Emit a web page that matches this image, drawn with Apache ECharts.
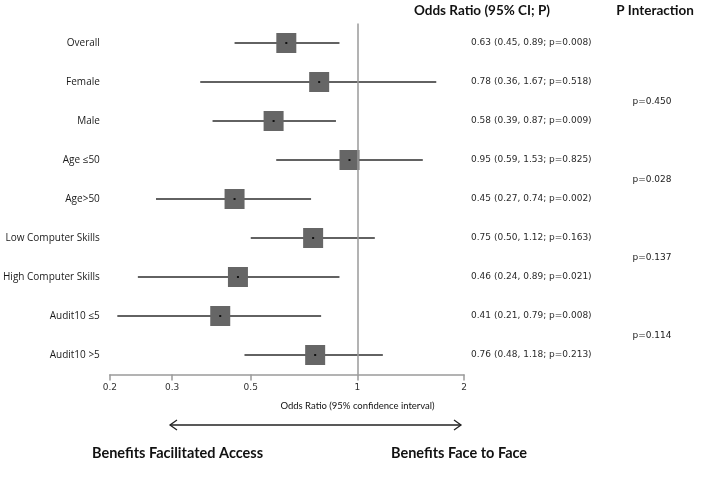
<!DOCTYPE html>
<html>
<head>
<meta charset="utf-8">
<script src="https://cdn.jsdelivr.net/npm/echarts@6/dist/echarts.min.js"></script>
<style>html,body{margin:0;padding:0;background:#fff}#c{width:708px;height:497px}</style>
</head>
<body>
<div id="c"></div>
<script>
// ---- data ----
const categories = ['Overall', 'Female', 'Male', 'Age \u226450', 'Age>50', 'Low Computer Skills', 'High Computer Skills', 'Audit10 \u22645', 'Audit10 >5'];
const oddsRatio = [0.63, 0.78, 0.58, 0.95, 0.45, 0.75, 0.46, 0.41, 0.76];
const ciLower   = [0.45, 0.36, 0.39, 0.59, 0.27, 0.50, 0.24, 0.21, 0.48];
const ciUpper   = [0.89, 1.67, 0.87, 1.53, 0.74, 1.12, 0.89, 0.79, 1.18];
const pValues   = ['0.008', '0.518', '0.009', '0.825', '0.002', '0.163', '0.021', '0.008', '0.213'];
const pInteraction = ['p=0.450', 'p=0.028', 'p=0.137', 'p=0.114'];
const pInteractionRows = [[1, 2], [3, 4], [5, 6], [7, 8]];
const xTicks = [0.2, 0.3, 0.5, 1, 2];

const orText = categories.map((c, i) =>
  oddsRatio[i].toFixed(2) + ' (' + ciLower[i].toFixed(2) + ', ' + ciUpper[i].toFixed(2) + '; p=' + pValues[i] + ')');

const chart = echarts.init(document.getElementById('c'), null, {renderer: 'canvas'});

const forestData = categories.map((c, i) => [oddsRatio[i], i, ciLower[i], ciUpper[i]]);
const pData = pInteraction.map((t, k) => [0.5, (pInteractionRows[k][0] + pInteractionRows[k][1]) / 2 + 0.5, k]);

const option = {
  animation: false,
  backgroundColor: '#fff',
  grid: [
    {left: 106, width: 358, top: 23.5, height: 351},
    {left: 632, width: 40, top: 24, height: 351}
  ],
  xAxis: [
    {
      type: 'log', gridIndex: 0, min: 0.2, max: 2, logBase: 10,
      axisLine: {show: true, lineStyle: {color: '#9a9a9a', width: 1.5}},
      axisTick: {show: true, customValues: xTicks, length: 6, lineStyle: {color: '#9a9a9a', width: 1.5}},
      axisLabel: {customValues: xTicks, margin: 9, fontFamily: 'DejaVu Sans', fontSize: 9, color: '#333',
        formatter: v => String(Math.round(v * 10) / 10)},
      splitLine: {show: false}
    },
    {type: 'value', gridIndex: 1, min: 0, max: 1, show: false}
  ],
  yAxis: [
    {
      type: 'category', gridIndex: 0, data: categories, inverse: true,
      axisLine: {show: false}, axisTick: {show: false},
      axisLabel: {margin: 10, fontFamily: 'Open Sans', fontSize: 10, color: '#1a1a1a'}
    },
    {
      type: 'category', gridIndex: 0, data: orText, inverse: true, position: 'right',
      axisLine: {show: false}, axisTick: {show: false},
      axisLabel: {margin: 7, fontFamily: 'DejaVu Sans', fontSize: 9, color: '#2a2a2a'}
    },
    {type: 'value', gridIndex: 1, min: 0, max: 9, inverse: true, show: false}
  ],
  series: [
    {
      type: 'custom', xAxisIndex: 0, yAxisIndex: 0,
      data: forestData,
      encode: {x: 0, y: 1},
      renderItem: function (params, api) {
        const cat = api.value(1);
        const c = api.coord([api.value(0), cat]);
        const l = api.coord([api.value(2), cat]);
        const h = api.coord([api.value(3), cat]);
        const s = 20;
        return {
          type: 'group',
          children: [
            {type: 'line', shape: {x1: l[0], y1: l[1], x2: h[0], y2: h[1]}, style: {stroke: '#2e2e2e', lineWidth: 1.4}},
            {type: 'rect', shape: {x: c[0] - s / 2, y: c[1] - s / 2, width: s, height: s}, style: {fill: '#666666'}},
            {type: 'rect', shape: {x: c[0] - 1, y: c[1] - 1, width: 2, height: 2}, style: {fill: '#111'}}
          ]
        };
      },
      markLine: {
        silent: true, symbol: 'none', label: {show: false},
        lineStyle: {color: '#9a9a9a', width: 1.5, type: 'solid'},
        data: [{xAxis: 1}]
      },
      z: 3
    },
    {
      type: 'custom', xAxisIndex: 1, yAxisIndex: 2, silent: true,
      data: pData, encode: {x: 0, y: 1},
      renderItem: function (params, api) {
        const p = api.coord([api.value(0), api.value(1)]);
        return {
          type: 'text', x: Math.round(p[0]), y: Math.round(p[1]),
          style: {text: pInteraction[api.value(2)], font: '9px "DejaVu Sans"', fill: '#222', align: 'center', verticalAlign: 'middle'}
        };
      }
    }
  ],
  graphic: [
    {type: 'text', x: 482, y: 11, style: {text: 'Odds Ratio (95% CI; P)', font: 'bold 13.5px Lato', fill: '#111', align: 'center', verticalAlign: 'middle'}},
    {type: 'text', x: 655, y: 11, style: {text: 'P Interaction', font: 'bold 13.5px Lato', fill: '#111', align: 'center', verticalAlign: 'middle'}},
    {type: 'text', x: 357.5, y: 406, style: {text: 'Odds Ratio (95% confidence interval)', font: '9.5px Lato', fill: '#111', align: 'center', verticalAlign: 'middle'}},
    {type: 'polyline', shape: {points: [[170, 425], [461, 425]]}, style: {stroke: '#222', lineWidth: 1.3}},
    {type: 'polyline', shape: {points: [[177, 420], [170, 425], [177, 430]]}, style: {stroke: '#222', lineWidth: 1.3, fill: null}},
    {type: 'polyline', shape: {points: [[454, 420], [461, 425], [454, 430]]}, style: {stroke: '#222', lineWidth: 1.3, fill: null}},
    {type: 'text', x: 92, y: 453, style: {text: 'Benefits Facilitated Access', font: 'bold 14.5px Lato', fill: '#111', align: 'left', verticalAlign: 'middle'}},
    {type: 'text', x: 391, y: 453, style: {text: 'Benefits Face to Face', font: 'bold 14.5px Lato', fill: '#111', align: 'left', verticalAlign: 'middle'}}
  ]
};
chart.setOption(option);
</script>
</body>
</html>
